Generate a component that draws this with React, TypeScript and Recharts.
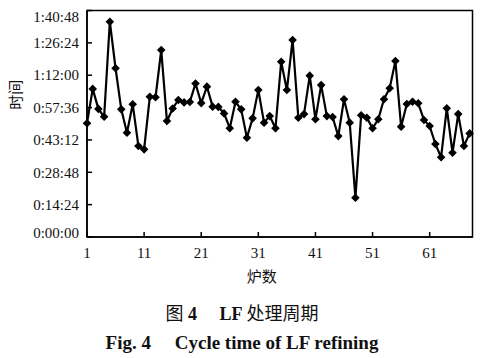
import React from "react";
import { LineChart, Line, XAxis, YAxis, ReferenceArea } from "recharts";

// heat number 1..68, LF treatment time in minutes
const heats = Array.from({ length: 68 }, (_, i) => i + 1);
const minutes = [
  50.6, 65.9, 57.0, 53.5, 95.8, 75.1, 56.8, 46.4, 59.1, 40.5,
  39.0, 62.4, 62.2, 83.2, 51.6, 57.2, 61.0, 59.9, 60.1, 68.3,
  59.6, 66.9, 58.0, 57.9, 55.0, 48.4, 60.2, 56.8, 44.2, 52.8,
  65.4, 50.9, 53.8, 48.4, 78.0, 65.4, 87.7, 53.1, 54.7, 71.8,
  52.4, 67.6, 53.8, 53.4, 44.9, 61.3, 50.9, 17.5, 54.2, 53.1,
  48.4, 52.4, 61.3, 66.2, 78.3, 49.1, 59.2, 60.2, 59.5, 52.1,
  49.4, 41.4, 35.5, 57.3, 37.5, 54.7, 40.5, 46.1,
];
const xTicks = [1, 11, 21, 31, 41, 51, 61];
const yTicks = [0, 864, 1728, 2592, 3456, 4320, 5184, 6048];

const data = heats.map((h, i) => ({ heat: h, sec: Math.round(minutes[i] * 60) }));

const pad = (n: number) => String(n).padStart(2, "0");
const fmtTime = (s: number) =>
  `${Math.floor(s / 3600)}:${pad(Math.floor((s % 3600) / 60))}:${pad(s % 60)}`;

const SERIF = '"Liberation Serif", "DejaVu Serif", serif';
const CJK = '"Noto Sans CJK SC", sans-serif';

function Diamond(props: any) {
  const { cx, cy, index } = props;
  if (cx == null || cy == null) return null;
  const r = 4.3;
  return (
    <polygon
      key={`d-${index}`}
      points={`${cx},${cy - r} ${cx + r},${cy} ${cx},${cy + r} ${cx - r},${cy}`}
      fill="#000"
    />
  );
}

// end labels sit a little inside the axis range in the original
function YTick(props: any) {
  const { x, y, payload } = props;
  let shift = 0;
  if (payload.value === 0) shift = -4;
  if (payload.value === 6048) shift = 6;
  return (
    <text x={x} y={y + shift} dy="0.35em" textAnchor="end" fontSize={15} fontFamily={SERIF} fill="#111">
      {fmtTime(payload.value)}
    </text>
  );
}

export default function App() {
  return (
    <div style={{ position: "absolute", left: 0, top: 0, width: 484, height: 358, background: "#fff" }}>
      <LineChart width={484} height={290} data={data} margin={{ top: 10.5, right: 11.5, left: 0, bottom: 0 }}>
        <XAxis
          dataKey="heat"
          type="number"
          domain={[1, 68.5]}
          ticks={xTicks}
          interval={0}
          height={53}
          stroke="#000"
          strokeWidth={1.5}
          tickSize={-5}
          tickMargin={15}
          tick={{ fontSize: 15, fontFamily: SERIF, fill: "#111" }}
          label={{ value: "炉数", position: "insideBottom", offset: 8, dx: -18, fontSize: 15, fontFamily: CJK, fill: "#111" }}
        />
        <YAxis
          type="number"
          domain={[0, 6048]}
          ticks={yTicks}
          interval={0}
          width={87}
          stroke="#000"
          strokeWidth={1.5}
          tickSize={-5}
          tickMargin={13}
          tick={<YTick />}
          label={{ value: "时间", angle: -90, position: "insideLeft", offset: 16, dy: -14, fontSize: 15, fontFamily: CJK, fill: "#111" }}
        />
        <ReferenceArea x1={1} x2={68.5} y1={0} y2={6048} fill="none" stroke="#000" strokeWidth={1.5} />
        <Line
          dataKey="sec"
          stroke="#000"
          strokeWidth={2.2}
          dot={<Diamond />}
          activeDot={false}
          isAnimationActive={false}
        />
      </LineChart>
      <div
        style={{
          position: "absolute", left: 0, width: 484, top: 301, lineHeight: "22px", textAlign: "center",
          fontSize: 18, fontFamily: SERIF, color: "#111", whiteSpace: "pre",
        }}
      >
        <span style={{ fontFamily: CJK }}>图</span>
        <b> 4     LF</b>
        <span style={{ fontFamily: CJK }}> 处理周期</span>
      </div>
      <div
        style={{
          position: "absolute", left: 0, width: 484, top: 332, lineHeight: "22px", textAlign: "center",
          fontSize: 19, fontWeight: "bold", fontFamily: SERIF, color: "#111", whiteSpace: "pre",
        }}
      >
        {"Fig. 4     Cycle time of LF refining"}
      </div>
    </div>
  );
}
